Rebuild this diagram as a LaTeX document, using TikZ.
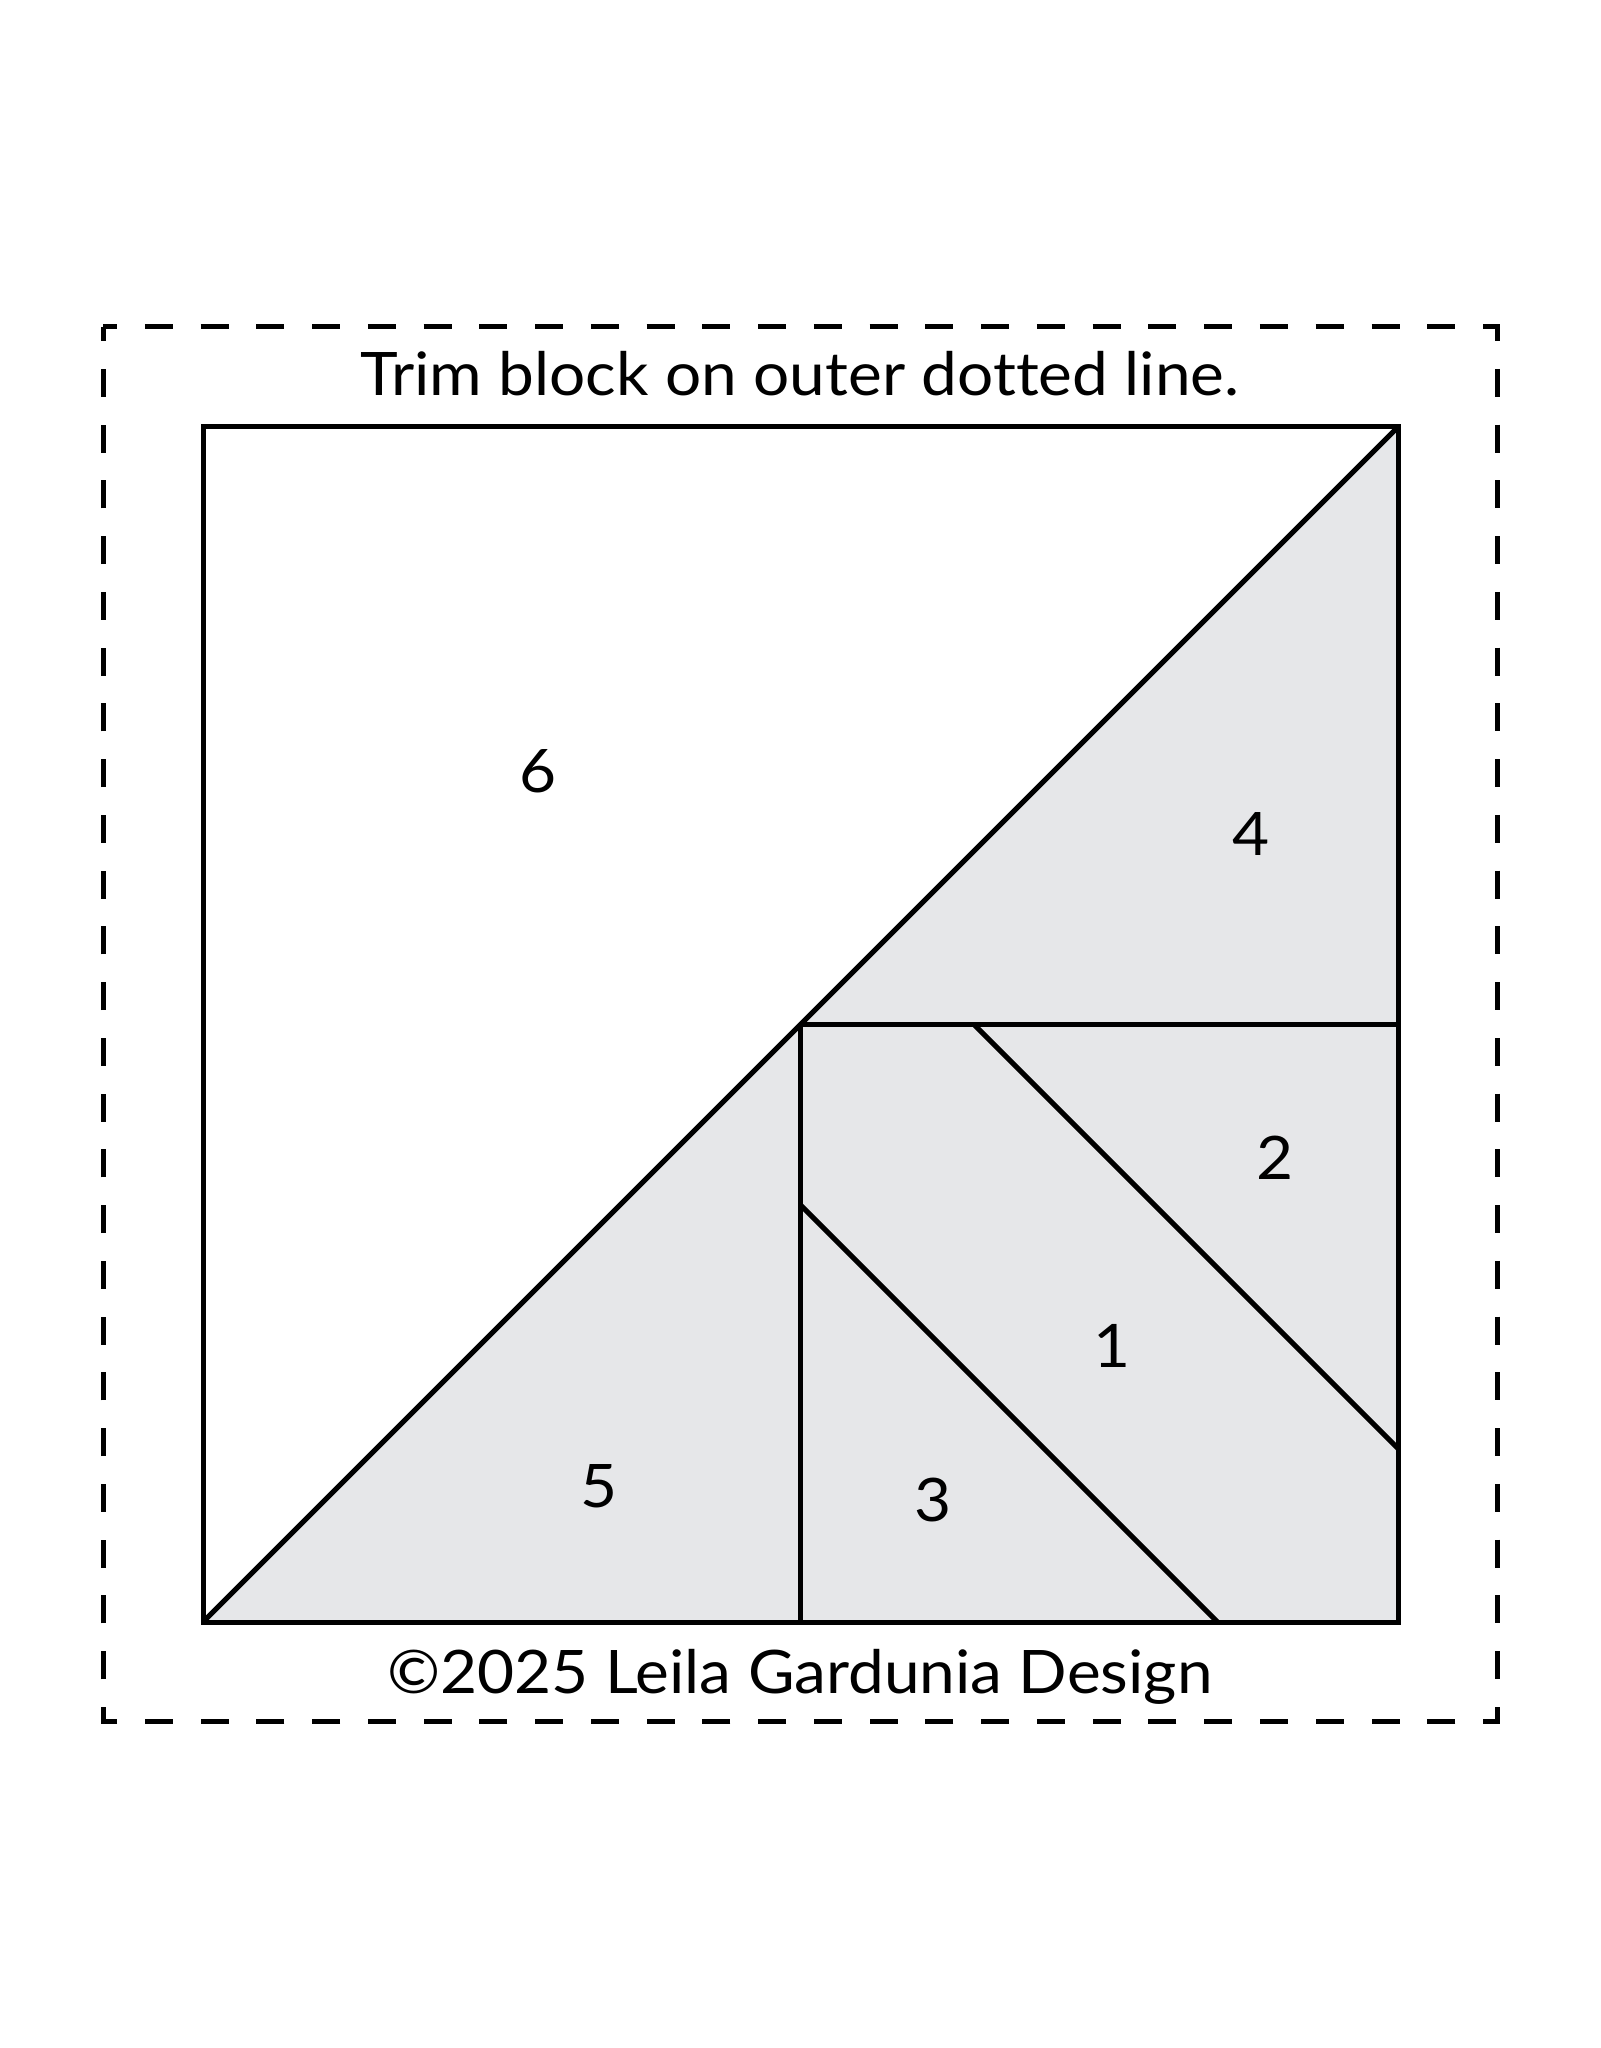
\documentclass[tikz,border=0pt]{standalone}
\usepackage{fontspec}
\setmainfont{Lato}[FakeStretch=1.065,Ligatures=NoCommon]
\definecolor{patch}{HTML}{E6E7E9}
\begin{document}
\begin{tikzpicture}[x=0.5pt,y=-0.5pt,
  seam/.style={line width=2.5pt,line join=miter,line cap=butt},
  trim/.style={line width=2.5pt,dash pattern=on 14pt off 13.88pt,dash phase=7pt},
  num/.style={anchor=base,inner sep=0pt,font=\fontsize{30}{36}\selectfont},
  caption/.style={anchor=base,inner sep=0pt,font=\fontsize{30}{36}\selectfont}]
\useasboundingbox (0,0) rectangle (1600,2048);
% corners of the block
\coordinate (TL) at (203,427);
\coordinate (TR) at (1398,427);
\coordinate (BL) at (203,1622);
\coordinate (BR) at (1398,1622);
\coordinate (C) at (800.5,1024.5);
\coordinate (RM) at (1398,1024.5);
\coordinate (BM) at (800.5,1622);
\coordinate (A1) at (974,1024.5);
\coordinate (A2) at (1398,1448.5);
\coordinate (B1) at (800.5,1205);
\coordinate (B2) at (1217.5,1622);
% fills
\fill[white] (TL) -- (TR) -- (BL) -- cycle;
\fill[patch] (TR) -- (BR) -- (BL) -- cycle;
% seams
\draw[seam] (A1) -- (A2);
\draw[seam] (B1) -- (B2);
\draw[seam] (C) -- (RM);
\draw[seam] (C) -- (BM);
\draw[seam] (BL) -- (TR);
\draw[seam] (TL) -- (TR) -- (BR) -- (BL) -- cycle;
% trim line
\draw[trim] (103,327) -- (1497,327) -- (1497,1721) -- (103,1721) -- cycle;
% labels
\node[num] (n6) at (538,792) {6};
\node[num] (n4) at (1251,855) {4};
\node[num] (n2) at (1275,1179) {2};
\node[num] (n1) at (1112,1367) {1};
\node[num] (n5) at (599,1507) {5};
\node[num] (n3) at (933,1521) {3};
\node[caption] (top) at (800,396) {Trim block on outer dotted line.};
\node[caption] (bot) at (800,1693) {©2025 Leila Gardunia Design};
\end{tikzpicture}
\end{document}
